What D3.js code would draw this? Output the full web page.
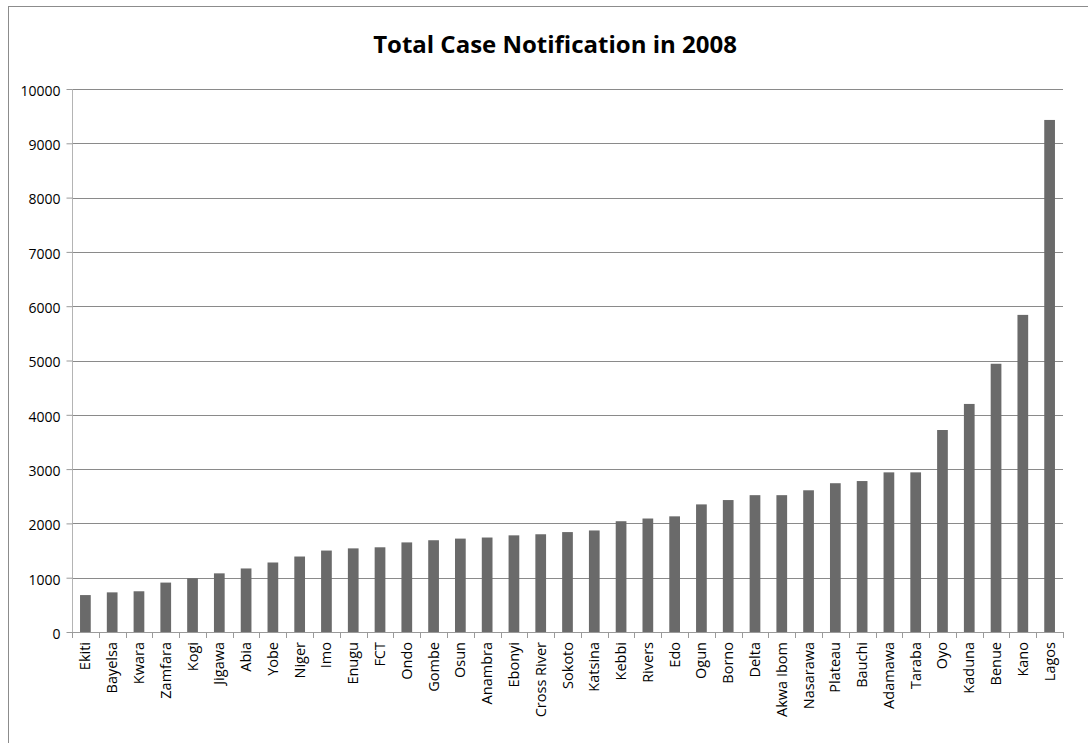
<!DOCTYPE html>
<html>
<head>
<meta charset="utf-8">
<script src="https://cdn.jsdelivr.net/npm/d3@7"></script>
<style>
  body { margin: 0; background: #fff; }
  svg { display: block; font-family: "Open Sans", Lato, sans-serif; }
</style>
</head>
<body>
<svg id="chart" width="1088" height="743"></svg>
<script>
// states, sorted by total notified cases
const states = ["Ekiti", "Bayelsa", "Kwara", "Zamfara", "Kogi", "Jigawa", "Abia", "Yobe", "Niger", "Imo",
  "Enugu", "FCT", "Ondo", "Gombe", "Osun", "Anambra", "Ebonyi", "Cross River", "Sokoto", "Katsina",
  "Kebbi", "Rivers", "Edo", "Ogun", "Borno", "Delta", "Akwa Ibom", "Nasarawa", "Plateau", "Bauchi",
  "Adamawa", "Taraba", "Oyo", "Kaduna", "Benue", "Kano", "Lagos"];
const cases = [680, 730, 750, 910, 990, 1080, 1170, 1280, 1390, 1500,
  1540, 1560, 1650, 1690, 1720, 1740, 1780, 1800, 1840, 1870,
  2040, 2090, 2130, 2350, 2430, 2520, 2520, 2610, 2740, 2780,
  2940, 2940, 3720, 4200, 4940, 5840, 9430];
const yTicks = [0, 1000, 2000, 3000, 4000, 5000, 6000, 7000, 8000, 9000, 10000];
const title = "Total Case Notification in 2008";

const data = states.map((s, i) => ({ state: s, value: cases[i] }));

const svg = d3.select("#chart");
const plotLeft = 72, plotRight = 1063, plotTop = 89, plotBottom = 632;

// chart border (right and bottom edges fall outside the picture)
svg.append("rect")
  .attr("x", 8.5).attr("y", 6.5)
  .attr("width", 1200).attr("height", 900)
  .attr("fill", "none")
  .attr("stroke", "#8c8c8c");

const x = d3.scaleBand()
  .domain(states)
  .range([plotLeft, plotRight])
  .paddingInner(0.6)
  .paddingOuter(0.3);

const y = d3.scaleLinear()
  .domain([0, 10000])
  .range([plotBottom, plotTop]);

// gridlines
svg.append("g")
  .selectAll("line")
  .data(yTicks.filter(d => d > 0))
  .enter()
  .append("line")
  .attr("x1", plotLeft).attr("x2", plotRight)
  .attr("y1", d => Math.round(y(d)) + 0.5)
  .attr("y2", d => Math.round(y(d)) + 0.5)
  .attr("stroke", "#8a8a8a");

// bars
svg.append("g")
  .selectAll("rect")
  .data(data)
  .enter()
  .append("rect")
  .attr("x", d => x(d.state))
  .attr("y", d => y(d.value))
  .attr("width", x.bandwidth())
  .attr("height", d => plotBottom - y(d.value))
  .attr("fill", "#6a6a6a");

// y axis
const yAxis = svg.append("g")
  .attr("transform", `translate(${plotLeft + 0.5},0)`)
  .call(d3.axisLeft(y).tickValues(yTicks).tickSize(6).tickPadding(6).tickFormat(d3.format("d")));
yAxis.select(".domain").attr("stroke", "#b4b4b4").attr("d", `M0,${plotTop}V${plotBottom}`);
yAxis.selectAll(".tick line").attr("stroke", "#9a9a9a");
yAxis.selectAll(".tick text")
  .attr("fill", "#000")
  .attr("dy", "0.45em")
  .style("font-size", "14px")
  .style("font-family", "'Open Sans', sans-serif");

// x axis with ticks at category boundaries
const xAxis = svg.append("g");
xAxis.append("line")
  .attr("x1", plotLeft).attr("x2", plotRight)
  .attr("y1", plotBottom + 0.5).attr("y2", plotBottom + 0.5)
  .attr("stroke", "#9a9a9a");
xAxis.selectAll(".xtick")
  .data(d3.range(states.length + 1))
  .enter()
  .append("line")
  .attr("class", "xtick")
  .attr("x1", i => Math.round(plotLeft + i * x.step()) + 0.5)
  .attr("x2", i => Math.round(plotLeft + i * x.step()) + 0.5)
  .attr("y1", plotBottom).attr("y2", plotBottom + 6)
  .attr("stroke", "#9a9a9a");
xAxis.selectAll(".xlabel")
  .data(states)
  .enter()
  .append("text")
  .attr("class", "xlabel")
  .attr("transform", d => `translate(${x(d) + x.bandwidth() / 2 + 5},${plotBottom + 10}) rotate(-90)`)
  .attr("text-anchor", "end")
  .style("font-size", "14.5px")
  .text(d => d);

// title
svg.append("text")
  .attr("x", 555)
  .attr("y", 53)
  .attr("text-anchor", "middle")
  .style("font-size", "24px")
  .style("font-weight", "bold")
  .text(title);
</script>
</body>
</html>
